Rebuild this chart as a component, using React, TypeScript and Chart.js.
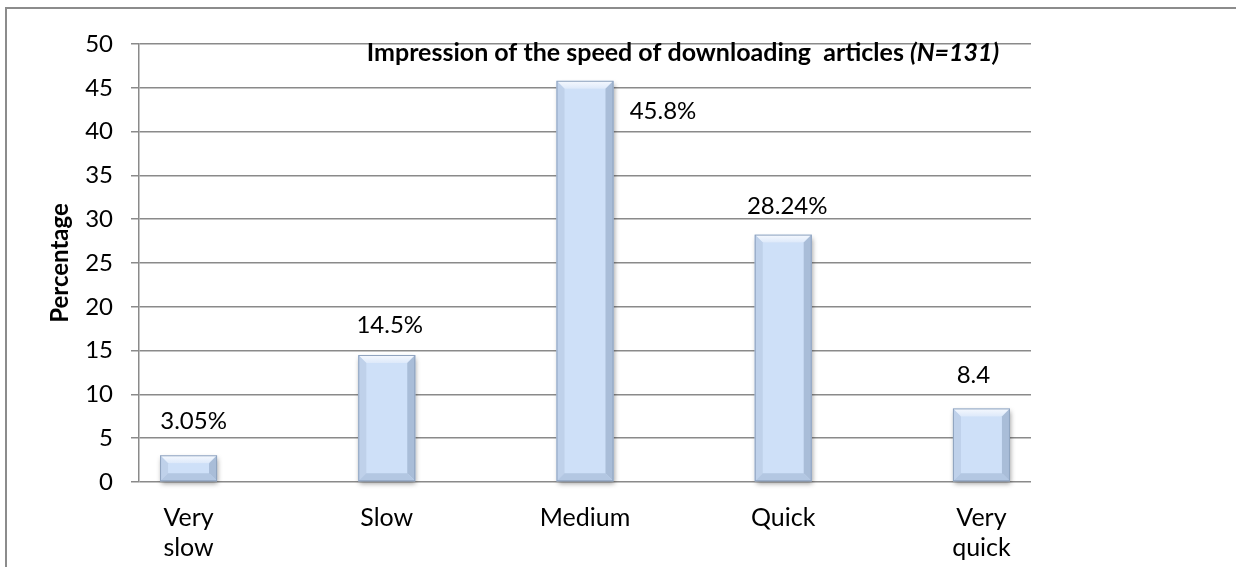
import React, { useEffect, useRef } from "react";
import { Chart, registerables } from "chart.js";

Chart.register(...registerables);

// ---- data ----
const CATEGORIES: string[][] = [["Very", "slow"], ["Slow"], ["Medium"], ["Quick"], ["Very", "quick"]];
const VALUES: number[] = [3.05, 14.5, 45.8, 28.24, 8.4];
const VALUE_LABELS: string[] = ["3.05%", "14.5%", "45.8%", "28.24%", "8.4"];
const Y_MIN = 0;
const Y_MAX = 50;
const Y_STEP = 5;
const TITLE_MAIN = "Impression of the speed of downloading  articles ";
const TITLE_N = "(N=131)";
const Y_TITLE = "Percentage";

// ---- style / placement ----
const FONT = "Lato";
const LABEL_OFFSETS: number[][] = [[5, -34], [3, -30], [78, 30], [4, -28], [-8, -33]];
const GRID = "#8a8a8a";

const barStylePlugin = {
  id: "bevelBarsAndLabels",
  afterDatasetsDraw(chart: any) {
    const ctx = chart.ctx;
    const meta = chart.getDatasetMeta(0);
    meta.data.forEach((el: any, i: number) => {
      const p = el.getProps(["x", "y", "base", "width"], true);
      const L = p.x - p.width / 2;
      const R = p.x + p.width / 2;
      const T = Math.min(p.y, p.base);
      const B = Math.max(p.y, p.base);
      const b = Math.min(8, (B - T) / 2.5);
      ctx.save();
      ctx.shadowColor = "rgba(0,0,0,0.4)";
      ctx.shadowBlur = 5;
      ctx.shadowOffsetX = 1;
      ctx.shadowOffsetY = 3;
      ctx.fillStyle = "#cadcf4";
      ctx.fillRect(L, T, R - L, B - T);
      ctx.shadowColor = "rgba(0,0,0,0)";
      ctx.fillStyle = "#cee0f8";
      ctx.fillRect(L + b, T + b, R - L - 2 * b, B - T - 2 * b);
      const poly = (pts: number[][], fill: any) => {
        ctx.beginPath();
        ctx.moveTo(pts[0][0], pts[0][1]);
        for (let k = 1; k < pts.length; k++) ctx.lineTo(pts[k][0], pts[k][1]);
        ctx.closePath();
        ctx.fillStyle = fill;
        ctx.fill();
      };
      const gTop = ctx.createLinearGradient(0, T, 0, T + b);
      gTop.addColorStop(0, "#f6f9fe");
      gTop.addColorStop(1, "#dde9fa");
      poly([[L, T], [R, T], [R - b, T + b], [L + b, T + b]], gTop);
      poly([[L, T], [L + b, T + b], [L + b, B - b], [L, B]], "#bfd1ea");
      poly([[R, T], [R, B], [R - b, B - b], [R - b, T + b]], "#a9bdd8");
      poly([[L, B], [L + b, B - b], [R - b, B - b], [R, B]], "#b3c7e2");
      ctx.strokeStyle = "#8fa3bf";
      ctx.lineWidth = 1;
      ctx.strokeRect(L + 0.5, T + 0.5, R - L - 1, B - T - 1);
      ctx.restore();

      const off = LABEL_OFFSETS[i] || [0, -20];
      ctx.save();
      ctx.font = `24px ${FONT}`;
      ctx.fillStyle = "#000";
      ctx.textAlign = "center";
      ctx.textBaseline = "middle";
      ctx.fillText(VALUE_LABELS[i], p.x + off[0], p.y + off[1]);
      ctx.restore();
    });
  },
};

const titlePlugin = {
  id: "mixedTitle",
  afterDraw(chart: any) {
    const ctx = chart.ctx;
    ctx.save();
    const f1 = `bold 25px ${FONT}`;
    const f2 = `italic bold 25px ${FONT}`;
    ctx.font = f1;
    const w1 = ctx.measureText(TITLE_MAIN).width;
    ctx.font = f2;
    const w2 = ctx.measureText(TITLE_N).width;
    const cx = 683;
    const y = 53;
    let x = cx - (w1 + w2) / 2;
    ctx.textBaseline = "middle";
    ctx.textAlign = "left";
    ctx.fillStyle = "#000";
    ctx.font = f1;
    ctx.fillText(TITLE_MAIN, x, y);
    x += w1;
    ctx.font = f2;
    ctx.fillText(TITLE_N, x, y);
    ctx.restore();
  },
};

export default function App() {
  const ref = useRef<HTMLCanvasElement | null>(null);
  useEffect(() => {
    if (!ref.current) return;
    const chart = new Chart(ref.current, {
      type: "bar",
      data: {
        datasets: [
          {
            data: VALUES.map((v, i) => ({ x: i, y: v })),
            backgroundColor: "rgba(0,0,0,0)",
            borderWidth: 0,
            barThickness: 57,
          } as any,
        ],
      },
      options: {
        responsive: false,
        animation: false,
        layout: { padding: { left: 0, right: 205, top: 44, bottom: 0 } },
        plugins: {
          legend: { display: false },
          tooltip: { enabled: false },
          title: { display: false },
        },
        scales: {
          x: {
            type: "linear",
            offset: false,
            min: -0.25,
            max: 4.25,
            grid: { display: false, drawTicks: false },
            border: { display: false },
            afterBuildTicks: (s: any) => {
              s.ticks = CATEGORIES.map((_, i) => ({ value: i }));
            },
            afterFit: (s: any) => {
              s.height = 85;
            },
            ticks: {
              callback: (v: any) => CATEGORIES[Math.round(Number(v))] as any,
              font: { family: FONT, size: 25, lineHeight: 1.2 },
              color: "#000",
              padding: 21,
              maxRotation: 0,
              autoSkip: false,
            },
          },
          y: {
            min: Y_MIN,
            max: Y_MAX,
            ticks: {
              stepSize: Y_STEP,
              font: { family: FONT, size: 24 },
              color: "#000",
              padding: 18,
            },
            grid: { color: GRID, lineWidth: 1.5, tickLength: 8 },
            border: { color: GRID, width: 1.5 },
            title: {
              display: true,
              text: Y_TITLE,
              font: { family: FONT, size: 24, weight: "bold" },
              color: "#000",
              padding: { top: 46, bottom: 0 },
            },
            afterFit: (s: any) => {
              s.width = 139;
            },
          },
        },
      } as any,
      plugins: [barStylePlugin, titlePlugin],
    });
    return () => chart.destroy();
  }, []);

  return (
    <div
      style={{
        position: "fixed",
        left: 0,
        top: 0,
        width: 1236,
        height: 567,
        overflow: "hidden",
        background: "#fff",
      }}
    >
      <div style={{ position: "absolute", left: 5, top: 7, width: 2, height: 560, background: "#8c8c8c" }} />
      <div style={{ position: "absolute", left: 5, top: 7, width: 1231, height: 2, background: "#8c8c8c" }} />
      <canvas
        ref={ref}
        width={1236}
        height={567}
        style={{ position: "absolute", left: 0, top: 0, width: 1236, height: 567 }}
      />
    </div>
  );
}
